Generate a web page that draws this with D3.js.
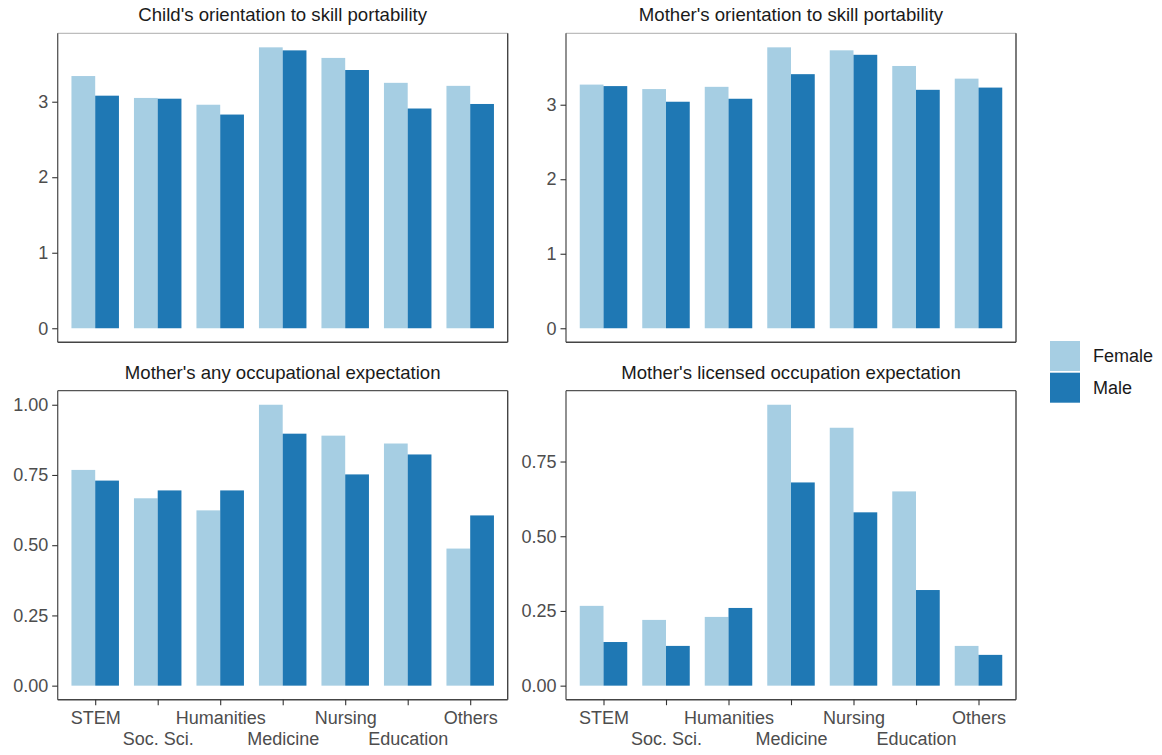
<!DOCTYPE html>
<html>
<head>
<meta charset="utf-8">
<script src="https://cdn.jsdelivr.net/npm/d3@7"></script>
<style>
  html, body { margin: 0; padding: 0; background: #fff; }
  svg { display: block; font-family: "Liberation Sans", Arial, Helvetica, sans-serif; }
</style>
</head>
<body>
<svg id="chart" width="1162" height="755"></svg>
<script>
// Fields of study (x categories) and gender series
const fields = ["STEM", "Soc. Sci.", "Humanities", "Medicine", "Nursing", "Education", "Others"];
const genders = ["Female", "Male"];

// Panel titles
const panelTitles = [
  "Child's orientation to skill portability",
  "Mother's orientation to skill portability",
  "Mother's any occupational expectation",
  "Mother's licensed occupation expectation"
];

// Values per panel, one entry per field
const childSkillFemale  = [3.34, 3.05, 2.96, 3.72, 3.58, 3.25, 3.21];
const childSkillMale    = [3.08, 3.04, 2.83, 3.68, 3.42, 2.91, 2.97];
const motherSkillFemale = [3.27, 3.21, 3.24, 3.77, 3.73, 3.52, 3.35];
const motherSkillMale   = [3.25, 3.04, 3.08, 3.41, 3.67, 3.20, 3.23];
const anyOccFemale      = [0.768, 0.667, 0.624, 1.000, 0.890, 0.862, 0.488];
const anyOccMale        = [0.730, 0.695, 0.695, 0.897, 0.752, 0.823, 0.606];
const licOccFemale      = [0.267, 0.220, 0.230, 0.940, 0.863, 0.650, 0.133];
const licOccMale        = [0.146, 0.133, 0.260, 0.680, 0.580, 0.320, 0.103];

// Tick labels per panel
const ticksSkill = [0, 1, 2, 3];
const ticksAnyOcc = [0, 0.25, 0.5, 0.75, 1.0];
const ticksLicOcc = [0, 0.25, 0.5, 0.75];

const panels = [
  { title: panelTitles[0], female: childSkillFemale,  male: childSkillMale,  ticks: ticksSkill,  fmt: d3.format("d"),   row: 0, col: 0 },
  { title: panelTitles[1], female: motherSkillFemale, male: motherSkillMale, ticks: ticksSkill,  fmt: d3.format("d"),   row: 0, col: 1 },
  { title: panelTitles[2], female: anyOccFemale,      male: anyOccMale,      ticks: ticksAnyOcc, fmt: d3.format(".2f"), row: 1, col: 0 },
  { title: panelTitles[3], female: licOccFemale,      male: licOccMale,      ticks: ticksLicOcc, fmt: d3.format(".2f"), row: 1, col: 1 }
];

const colors = d3.scaleOrdinal().domain(genders).range(["#a6cee3", "#1f78b4"]);

// Layout of the 2x2 grid
const colX = [57.7, 566];
const rowY = [33.3, 390.7];
const panelW = 450;
const panelH = 309;
const axisColor = "#4d4d4d";
const lineColor = "#555555";
const fontSize = 18;

const svg = d3.select("#chart");

panels.forEach(p => {
  const left = colX[p.col], top = rowY[p.row];
  const g = svg.append("g").attr("transform", `translate(${left},${top})`);

  const x = d3.scalePoint().domain(fields).range([0, panelW]).padding(0.6);
  const bw = x.step() * 0.76;
  const xg = d3.scaleBand().domain(genders).range([-bw / 2, bw / 2]);

  const maxV = d3.max(p.female.concat(p.male));
  const y = d3.scaleLinear().domain([-0.05 * maxV, 1.05 * maxV]).range([panelH, 0]);

  const rows = fields.map((f, i) => ({ field: f, Female: p.female[i], Male: p.male[i] }));

  // Bars
  g.selectAll("g.grp").data(rows).join("g")
    .attr("class", "grp")
    .attr("transform", d => `translate(${x(d.field)},0)`)
    .selectAll("rect").data(d => genders.map(k => ({ key: k, value: d[k] }))).join("rect")
      .attr("x", d => xg(d.key))
      .attr("width", xg.bandwidth())
      .attr("y", d => y(d.value))
      .attr("height", d => y(0) - y(d.value))
      .attr("fill", d => colors(d.key));

  // Panel frame
  g.append("line").attr("x1", 0).attr("x2", panelW).attr("y1", 0).attr("y2", 0)
    .attr("stroke", p.row === 0 ? "#bdbdbd" : lineColor).attr("stroke-width", 1.2);
  g.append("line").attr("x1", panelW).attr("x2", panelW).attr("y1", 0).attr("y2", panelH)
    .attr("stroke", "#444").attr("stroke-width", 1.4);

  // Y axis
  const yAxis = d3.axisLeft(y).tickValues(p.ticks).tickFormat(p.fmt).tickSize(5.5).tickPadding(4);
  const ya = g.append("g").call(yAxis);
  ya.select(".domain").attr("d", `M0,0V${panelH}`).attr("stroke", lineColor).attr("stroke-width", 1.3);
  ya.selectAll(".tick line").attr("stroke", "#333").attr("stroke-width", 1.1);
  ya.selectAll(".tick text").attr("fill", axisColor).attr("font-size", fontSize)
    .attr("font-family", "Liberation Sans, Arial, sans-serif");

  // X axis (bottom row only), labels in two staggered rows
  if (p.row === 1) {
    const xAxis = d3.axisBottom(x).tickSize(5.5).tickPadding(3);
    const xa = g.append("g").attr("transform", `translate(0,${panelH})`).call(xAxis);
    xa.select(".domain").attr("d", `M0,0H${panelW}`).attr("stroke", "#444").attr("stroke-width", 1.4);
    xa.selectAll(".tick line").attr("stroke", "#333").attr("stroke-width", 1.1);
    xa.selectAll(".tick text")
      .attr("fill", axisColor).attr("font-size", fontSize)
      .attr("font-family", "Liberation Sans, Arial, sans-serif")
      .attr("y", (d, i) => i % 2 === 0 ? 12 : 33)
      .attr("dy", "0.71em");
  } else {
    g.append("line").attr("x1", 0).attr("x2", panelW).attr("y1", panelH).attr("y2", panelH)
      .attr("stroke", "#444").attr("stroke-width", 1.4);
  }

  // Strip title
  svg.append("text")
    .attr("x", left + panelW / 2).attr("y", top - 18.5)
    .attr("dy", "0.35em")
    .attr("text-anchor", "middle")
    .attr("fill", "#1a1a1a").attr("font-size", 18.6)
    .text(p.title);
});

// Legend
const legend = svg.append("g").attr("transform", "translate(1050,341)");
genders.forEach((k, i) => {
  const row = legend.append("g").attr("transform", `translate(0,${i * 31.7})`);
  row.append("rect").attr("width", 30).attr("height", 30).attr("fill", colors(k));
  row.append("text").attr("x", 43).attr("y", 15).attr("dy", "0.35em")
    .attr("fill", "#1a1a1a").attr("font-size", fontSize).text(k);
});
</script>
</body>
</html>
